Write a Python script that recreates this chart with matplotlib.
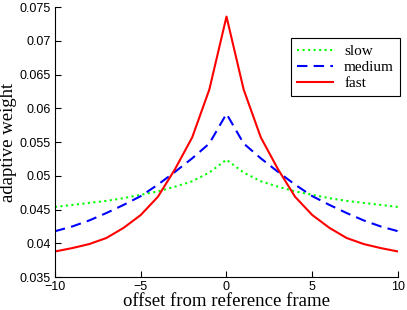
import matplotlib
matplotlib.use('Agg')
import matplotlib.pyplot as plt
import numpy as np

# offsets from the reference frame
offset = np.arange(-10, 11)

# left half (-10..0), mirrored to the right
slow_half = [0.0454, 0.0457, 0.0460, 0.0463, 0.0467, 0.0472, 0.0477, 0.0484, 0.0492, 0.0505, 0.0524]
medium_half = [0.0418, 0.0425, 0.0434, 0.0445, 0.0457, 0.0470, 0.0487, 0.0506, 0.0526, 0.0548, 0.0592]
fast_half = [0.0388, 0.0393, 0.0399, 0.0408, 0.0423, 0.0442, 0.0469, 0.0510, 0.0557, 0.0628, 0.0736]

slow = slow_half + slow_half[-2::-1]
medium = medium_half + medium_half[-2::-1]
fast = fast_half + fast_half[-2::-1]

serif = ['Liberation Serif', 'DejaVu Serif']
sans = ['Liberation Sans', 'DejaVu Sans']

fig = plt.figure(figsize=(4.07, 3.10), dpi=100)
ax = fig.add_axes([0.135, 0.106, 0.843, 0.871])

ax.plot(offset, slow, color=(0, 1, 0), linestyle=':', linewidth=1.5, label='slow')
ax.plot(offset, medium, color=(0, 0, 1), linestyle=(0, (5, 3)), linewidth=1.5, label='medium')
ax.plot(offset, fast, color=(1, 0, 0), linestyle='-', linewidth=1.5, label='fast')

ax.set_xlim(-10, 10)
ax.set_ylim(0.035, 0.075)
ax.set_xticks([-10, -5, 0, 5, 10])
ax.set_yticks(np.arange(0.035, 0.0751, 0.005))
ax.set_yticklabels(['0.035', '0.04', '0.045', '0.05', '0.055', '0.06', '0.065', '0.07', '0.075'])

for lab in ax.get_xticklabels() + ax.get_yticklabels():
    lab.set_family(sans)
    lab.set_fontsize(9)

ax.tick_params(direction='in', length=4, width=0.8, pad=3)
ax.spines['top'].set_visible(False)
ax.spines['right'].set_visible(False)

ax.set_xlabel('offset from reference frame', family=serif, fontsize=13.5, labelpad=0)
ax.set_ylabel('adaptive weight', family=serif, fontsize=13.5, labelpad=2)

leg = ax.legend(loc='upper right', bbox_to_anchor=(1.006, 0.885), borderaxespad=0,
                prop={'family': serif, 'size': 11}, fancybox=False, framealpha=1,
                edgecolor='black', handlelength=2.4, labelspacing=0.15, borderpad=0.4,
                handletextpad=0.7)
leg.get_frame().set_linewidth(0.8)

fig.savefig('out.png', dpi=100)
